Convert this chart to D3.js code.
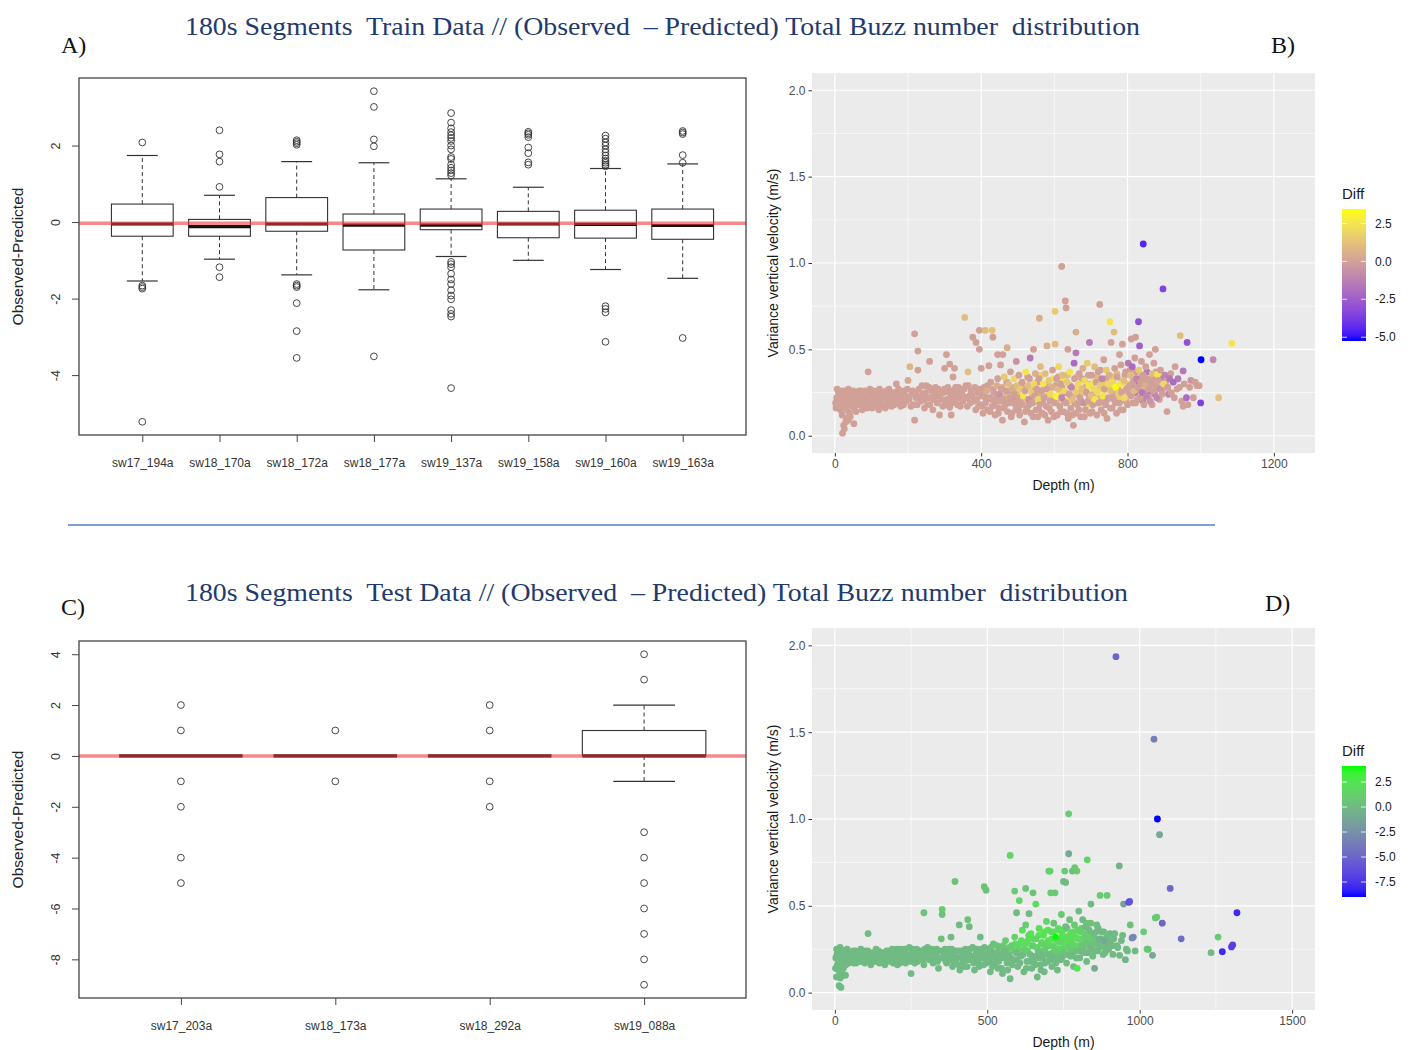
<!DOCTYPE html>
<html>
<head>
<meta charset="utf-8">
<script src="https://cdn.jsdelivr.net/npm/d3@7"></script>
<style>
  body { margin: 0; background: #fff; }
  text { font-family: "Liberation Sans", Arial, sans-serif; }
  .serif { font-family: "Liberation Serif", "Times New Roman", serif; white-space: pre; }
</style>
</head>
<body>
<svg id="fig" width="1413" height="1050"></svg>
<script>
// ---------- boxplot data (Observed - Predicted) ----------
const trainCats = ["sw17_194a", "sw18_170a", "sw18_172a", "sw18_177a", "sw19_137a", "sw19_158a", "sw19_160a", "sw19_163a"];
const trainQ1 = [-0.37, -0.37, -0.24, -0.73, -0.20, -0.41, -0.42, -0.45];
const trainMed = [-0.05, -0.12, -0.05, -0.08, -0.08, -0.05, -0.06, -0.09];
const trainQ3 = [0.47, 0.07, 0.64, 0.21, 0.34, 0.28, 0.31, 0.34];
const trainLo = [-1.54, -0.97, -1.38, -1.77, -0.90, -1.00, -1.24, -1.47];
const trainHi = [1.74, 0.70, 1.58, 1.55, 1.13, 0.91, 1.40, 1.52];
const trainOut = [
  [2.08, -1.66, -1.70, -1.74, -5.22],
  [2.40, 1.77, 1.58, 0.92, -1.18, -1.44],
  [2.14, 2.10, 2.06, 2.02, -1.62, -1.66, -1.70, -2.12, -2.85, -3.55],
  [3.42, 3.01, 2.16, 1.98, -3.51],
  [2.85, 2.60, 2.45, 2.35, 2.27, 2.20, 2.12, 2.00, 1.90, 1.70, 1.65, 1.50, 1.42, 1.35, 1.28, 1.22,
   -1.04, -1.10, -1.18, -1.35, -1.50, -1.62, -1.78, -1.92, -2.02, -2.30, -2.40, -2.47, -4.34],
  [2.36, 2.32, 2.28, 2.22, 1.95, 1.80, 1.56, 1.50],
  [2.26, 2.18, 2.08, 2.00, 1.90, 1.82, 1.74, 1.66, 1.60, 1.55, 1.50, 1.46, -2.20, -2.27, -2.36, -3.13],
  [2.38, 2.34, 2.30, 1.75, 1.55, -3.03]
];
const trainTicks = [-4, -2, 0, 2];

const testCats = ["sw17_203a", "sw18_173a", "sw18_292a", "sw19_088a"];
const testQ1 = [0, 0, 0, 0];
const testMed = [0, 0, 0, 0];
const testQ3 = [0, 0, 0, 1];
const testLo = [0, 0, 0, -1];
const testHi = [0, 0, 0, 2];
const testOut = [
  [2, 1, -1, -2, -4, -5],
  [1, -1],
  [2, 1, -1, -2],
  [4, 3, -3, -4, -5, -6, -7, -8, -9]
];
const testTicks = [-8, -6, -4, -2, 0, 2, 4];

// ---------- scatter data: [depth (m), variance vertical velocity, Diff] ----------
const trainPts = [
  [5,0.22,0],[8,0.18,0],[10,0.25,0],[12,0.20,0.1],[15,0.15,0],[18,0.23,0],[20,0.12,-0.1],[22,0.19,0],[25,0.26,0],
  [28,0.16,0],[30,0.21,0.1],[32,0.10,0],[35,0.24,0],[38,0.18,0],[40,0.13,0],[24,0.06,0],[21,0.015,0],[26,0.04,0],
  [30,0.08,0],[36,0.09,0],[42,0.11,0],[45,0.22,0],[48,0.17,0],[50,0.26,0],[55,0.20,0],[58,0.14,0],[52,0.07,0],
  [60,0.24,0],[3,0.16,0],[6,0.27,0],[14,0.23,0],
  [2,0.19,0],[9,0.21,0],[16,0.26,0],[19,0.17,0],[27,0.22,0],[33,0.15,0],[37,0.27,0],[43,0.19,0],[47,0.24,0],[53,0.16,0],
  [57,0.22,0],[62,0.19,0],[66,0.26,0],[70,0.20,0],[74,0.23,0],[79,0.17,0],[83,0.26,0],[87,0.21,0],[94,0.18,0],[98,0.24,0],
  [102,0.16,0],[106,0.26,0],[110,0.20,0],[114,0.18,0],[118,0.24,0],[122,0.27,0],[126,0.17,0],[130,0.22,0],[134,0.25,0],
  [138,0.16,0],[143,0.22,0],[148,0.27,0],[153,0.20,0],[158,0.25,0],[162,0.18,0],[167,0.22,0],[174,0.27,0],[178,0.20,0],
  [183,0.25,0],[188,0.18,0],[193,0.23,0],[198,0.27,0],[203,0.21,0],[208,0.17,0],[213,0.26,0],[220,0.25,0],[225,0.18,0],
  [233,0.23,0],[238,0.29,0],[243,0.21,0],[248,0.25,0],[253,0.18,0],[258,0.28,0],[263,0.22,0],[268,0.15,0],[272,0.25,0],
  [278,0.23,0],[283,0.27,0],[291,0.21,0],[297,0.25,0],[303,0.18,0],[309,0.28,0],[316,0.22,0],[322,0.26,0],[328,0.20,0],
  [333,0.25,0],[338,0.28,0],[343,0.17,0],[348,0.24,0],[353,0.27,0],[360,0.22,0],[365,0.29,0],[370,0.19,0],[375,0.23,0],
  [383,0.28,0],[388,0.21,0],[393,0.17,0],[397,0.27,0],
  [65,0.18,0],[68,0.23,0],[72,0.26,0],[75,0.15,0],[78,0.21,0],[82,0.19,0],[85,0.24,0],[88,0.16,0],[91,0.37,0],
  [92,0.22,0],[96,0.27,0],[100,0.19,0],[104,0.23,0],[108,0.17,0],[112,0.25,0],[116,0.21,0],[120,0.15,0],[124,0.20,0],
  [128,0.24,0],[132,0.18,0],[136,0.22,0],[140,0.26,0],[145,0.19,0],[150,0.23,0],[155,0.17,0],[160,0.21,0],[165,0.25,0],
  [168,0.30,0],[172,0.19,0],[176,0.23,0],[180,0.17,0],[185,0.22,0],[190,0.26,0],[195,0.20,0],[200,0.32,0.3],[205,0.40,0.8],
  [210,0.24,0],[215,0.18,0],[218,0.59,0],[218,0.09,0],[222,0.22,0],[227,0.49,0],[227,0.38,0],
  [230,0.27,0],[235,0.20,0],[240,0.24,0],[245,0.16,0],[250,0.29,0],[255,0.22,0],[259,0.43,0],[260,0.18,0],[265,0.26,0],
  [270,0.21,0],[275,0.28,0],[280,0.19,0],[286,0.12,0],[288,0.24,0],[295,0.17,0],[300,0.39,0],[300,0.27,0],[305,0.47,0],
  [306,0.21,0],[312,0.25,0],[314,0.165,0],[314,0.415,0],[318,0.12,0],[320,0.19,0],[323,0.34,0],[325,0.23,0],[327,0.39,0],
  [330,0.28,0],[335,0.18,0],[340,0.22,0],[345,0.26,0],[350,0.20,0],[355,0.685,1],[358,0.29,0],[362,0.17,0],[364,0.37,1],
  [368,0.23,0],[372,0.26,0],[377,0.57,0],[380,0.20,0],[385,0.15,0],[386,0.54,0],[390,0.25,0],[395,0.50,0],[395,0.61,0],[398,0.18,0],
  [403,0.17,0],[407,0.25,0],[413,0.22,0],[417,0.29,0],[424,0.14,0],[428,0.21,0],[433,0.27,0],[437,0.18,0],[442,0.23,0],
  [447,0.13,0],[452,0.20,0],[457,0.28,0.5],[462,0.16,0],[467,0.23,1],[470,0.31,0],[474,0.19,0],[479,0.26,0],[484,0.13,0],
  [487,0.22,-0.5],[491,0.28,0],[494,0.18,0],[499,0.25,1.5],[502,0.15,0],[506,0.22,0],[509,0.30,0.5],[513,0.19,0],[517,0.27,0],
  [521,0.14,0],[524,0.21,1],[527,0.34,0],[531,0.18,0],[535,0.28,2],[539,0.22,0],[542,0.11,0],[547,0.26,0],[551,0.20,1.5],
  [554,0.31,0],[557,0.15,0],[561,0.24,0.5],[564,0.35,2],[568,0.19,0],[571,0.27,0],[574,0.12,0],[577,0.23,1.5],[582,0.30,0],
  [586,0.16,0],[589,0.28,1],[593,0.21,0],[597,0.33,2.5],[599,0.11,0],[603,0.29,0],[607,0.19,1],[611,0.34,0],[614,0.24,2],
  [618,0.14,0],[621,0.28,0],[624,0.32,2.5],[627,0.20,0],[631,0.25,-0.5],[634,0.13,0],[636,0.35,1],[639,0.20,2],[643,0.29,0],
  [646,0.23,0.5],[649,0.12,0],[653,0.27,2],[656,0.19,0],[661,0.34,1],[664,0.24,0],[667,0.15,0],[669,0.29,2.5],[673,0.20,0],
  [676,0.33,0],[679,0.25,1.5],[682,0.11,0],[686,0.28,0],[689,0.18,2],[693,0.35,0],[695,0.23,0],[699,0.30,1.5],[703,0.14,0],
  [706,0.24,0],[709,0.31,2.5],[713,0.19,0],[717,0.34,1],[719,0.22,0],[723,0.27,2],[726,0.38,0],[729,0.20,0],[733,0.30,1.5],
  [736,0.13,0],[739,0.26,2.5],[741,0.33,0],[745,0.21,0],[749,0.28,2],[753,0.16,0],[757,0.34,1.5],[761,0.24,0],[764,0.29,2.5],
  [767,0.19,0],[771,0.36,1],[774,0.27,0],[777,0.22,2],[781,0.15,0],[785,0.31,0],[789,0.26,1.5],[793,0.35,0],[796,0.20,0],
  [799,0.30,2],[804,0.24,0],[807,0.38,0],[811,0.28,-1],[814,0.19,0],[817,0.33,0],[821,0.25,-1.5],[824,0.37,0],[827,0.21,0],
  [832,0.30,-2],[835,0.26,0],[839,0.34,0],[842,0.20,-1],[846,0.31,0],[849,0.25,0],[853,0.37,-1.5],[857,0.22,0],[861,0.30,0],
  [864,0.26,-2.5],[867,0.18,0],[871,0.33,0],[874,0.24,-1],[878,0.37,0],[883,0.28,0],[887,0.21,0],[891,0.33,-1.5],[896,0.27,0],
  [904,0.31,0],[912,0.24,-1],[918,0.36,0],[928,0.22,0],[938,0.33,-1.5],[942,0.28,0],
  [400,0.39,0],[402,0.23,0],[405,0.13,0],[408,0.28,0],[411,0.61,1],[412,0.19,0],[415,0.26,0.5],[418,0.15,0],[421,0.405,0],
  [422,0.22,0],[426,0.31,0],[430,0.61,1.2],[430,0.17,0],[432,0.57,0],[434,0.25,0],[438,0.12,0],[440,0.20,0],[443,0.29,0.5],
  [445,0.47,0],[445,0.33,0],[448,0.16,0],[450,0.24,-0.5],[453,0.41,0],[455,0.27,0],[458,0.09,0],[459,0.47,0],[460,0.21,0],
  [463,0.34,1.5],[466,0.18,0],[468,0.26,0],[471,0.51,0.5],[472,0.14,0],[475,0.30,1],[478,0.22,0],[480,0.37,0],[482,0.11,0],
  [485,0.27,0.5],[488,0.19,0],[490,0.33,2],[492,0.24,0],[495,0.15,0],[496,0.43,-0.5],[498,0.29,1],
  [500,0.21,0],[503,0.35,0],[505,0.12,0],[508,0.27,1.5],[510,0.18,0],[512,0.31,0],[515,0.23,2.5],[518,0.08,0],[520,0.26,0],
  [522,0.37,2.5],[525,0.16,0],[528,0.29,1],[530,0.21,-0.5],[532,0.33,0],[534,0.45,-1.5],[536,0.13,0],[538,0.25,1.5],
  [540,0.19,0],[543,0.50,0],[544,0.30,2],[546,0.23,0],[548,0.36,0.5],[550,0.15,0],[552,0.27,0],[555,0.11,0],[556,0.21,2],
  [558,0.33,0],[559,0.68,0.5],[560,0.18,0],[562,0.40,1],[565,0.26,0],[567,0.13,0],[570,0.30,2.5],[572,0.22,0],[575,0.36,1],
  [578,0.17,0],[580,0.52,0.5],[580,0.27,0],[583,0.09,0],[585,0.32,1.5],[588,0.20,0],[590,0.24,2],[592,0.14,0],[595,0.38,0],
  [598,0.28,0.5],[600,0.19,0],
  [602,0.72,1.5],[602,0.53,1],[604,0.23,3],[606,0.33,0],[608,0.12,0],[610,0.27,1],[612,0.40,2],[615,0.17,0],[617,0.30,0],
  [620,0.98,0],[620,0.22,-1],[622,0.35,1],[625,0.14,0],[628,0.26,2],[630,0.78,0],[632,0.74,0],[632,0.19,0],[635,0.31,1.5],
  [637,0.50,0],[638,0.10,0],[640,0.24,0],[642,0.37,2.5],[645,0.16,0],[647,0.28,-1],[650,0.21,1],[652,0.06,0],[654,0.42,-2],
  [655,0.33,0],[658,0.13,0],[659,0.60,0.5],[659,0.48,-1.5],[660,0.25,1.5],[663,0.18,0],[665,0.30,2],[668,0.36,0],[670,0.22,0],
  [672,0.11,0],[675,0.27,1],[678,0.39,0.5],[680,0.19,-0.5],[683,0.32,2],[685,0.15,0],[688,0.25,0],[690,0.42,1.5],[692,0.20,0],
  [694,0.29,2.5],[696,0.54,-1.5],[698,0.13,0],[700,0.23,1],
  [702,0.35,0],[705,0.18,0],[707,0.27,2],[710,0.40,1],[712,0.21,2.5],[714,0.31,0],[716,0.12,0],[718,0.25,2],[720,0.37,0],
  [722,0.19,0],[724,0.76,0],[725,0.29,1.5],[728,0.15,0],[730,0.33,-1],[732,0.23,2.5],[735,0.44,0],[737,0.27,0],[740,0.18,0],
  [742,0.38,1.5],[744,0.10,0],[746,0.30,2],[748,0.22,0],[750,0.35,0.5],[752,0.66,2.5],[755,0.54,0],[755,0.26,1],[758,0.16,0],
  [760,0.31,2],[763,0.60,1],[763,0.21,0],[765,0.39,0],[768,0.28,3.45],[770,0.13,0],[772,0.34,0],[775,0.24,1.5],[778,0.47,0],
  [778,0.19,0],[780,0.30,2.5],[782,0.41,0],[784,0.25,0],[786,0.53,0],[788,0.15,0],[790,0.32,1],[792,0.22,2],[795,0.37,0],
  [797,0.27,0],[800,0.18,0],
  [802,0.42,-1.5],[805,0.29,0],[808,0.35,1],[810,0.56,0],[810,0.23,0],[813,0.40,-2],[815,0.31,0],[818,0.26,1],[820,0.45,0],
  [822,0.57,0],[822,0.19,0],[825,0.33,-1],[828,0.28,0],[830,0.66,-3],[831,0.38,1.5],[833,0.52,-2.5],[834,0.22,0],[836,0.31,0],
  [838,0.43,0],[840,0.25,-1.5],[843,1.11,-4.5],[843,0.35,0],[845,0.18,0],[848,0.29,0.5],[850,0.40,0],[852,0.23,-1],[855,0.33,0],
  [858,0.27,0],[860,0.47,0],[862,0.20,-0.5],[865,0.31,0],[868,0.36,1],[870,0.26,0],[872,0.42,0],[876,0.50,0],[876,0.29,0],
  [880,0.22,-1],[882,0.355,2.5],[885,0.32,0],[888,0.27,-0.5],[890,0.38,0],[894,0.24,0],[897,0.85,-3.5],[899,0.30,2],
  [902,0.35,-1],[908,0.14,0],[910,0.28,0],[915,0.33,-1.5],[920,0.25,0],[925,0.31,-2],[930,0.40,0],[935,0.27,0],
  [944,0.58,1],[948,0.20,0],[952,0.375,-1.5],[952,0.17,0],[955,0.30,0],[961,0.22,-2],[963,0.54,-3],[965,0.18,0],[970,0.28,0],
  [973,0.32,-0.5],[980,0.22,0],[985,0.31,0],[990,0.29,0],[996,0.29,0],[1000,0.19,-3.5],[1001,0.44,-5.25],[1034,0.44,-1],
  [1049,0.22,1.2],[1085,0.535,2.5]
];

const testPts = [
  [3,0.20,0],[5,0.09,0],[6,0.25,0],[8,0.16,0],[10,0.22,0],[12,0.13,0],[14,0.04,0],[15,0.19,0],[17,0.26,0],[18,0.085,0],
  [20,0.03,0],[20,0.17,0],[22,0.23,0],[24,0.11,0],[25,0.20,0],[28,0.14,0],[30,0.24,0],[32,0.18,0],[35,0.10,0],[38,0.21,0],
  [40,0.25,0],[45,0.17,0],[48,0.22,0],
  [2,0.14,0],[7,0.22,0],[11,0.18,0],[13,0.24,0],[16,0.12,0],[19,0.21,0],[23,0.16,0],[26,0.24,0],[29,0.19,0],[33,0.22,0],
  [36,0.16,0],[42,0.20,0],[50,0.23,0],[52,0.18,0],[58,0.21,0],[62,0.17,0],[67,0.24,0],[72,0.20,0],[78,0.22,0],[83,0.18,0],
  [88,0.23,0],[93,0.20,0],[98,0.17,0],[103,0.22,0],[108,0.24,0],[115,0.19,0],[121,0.22,0],[127,0.18,0],[133,0.21,0],
  [138,0.18,0],[143,0.24,0],[149,0.20,0],[155,0.18,0],[161,0.23,0],[167,0.19,0],[173,0.22,0],[179,0.24,0],[185,0.20,0],
  [191,0.17,0],[197,0.22,0],[203,0.25,0],[208,0.19,0],[213,0.17,0],[218,0.22,0],[223,0.20,0],[229,0.25,0],[235,0.19,0],
  [241,0.22,0],[247,0.18,0],[254,0.25,0],[259,0.20,0],[265,0.22,0],[271,0.18,0],[277,0.24,0],[283,0.21,0],[289,0.19,0],
  [295,0.25,0],[301,0.20,0],[307,0.23,0],[313,0.19,0],[319,0.25,0],[325,0.19,0],[331,0.22,0],[337,0.18,0],[343,0.24,0],
  [355,0.20,0],[361,0.25,0],[367,0.17,0],[373,0.22,0],[379,0.19,0],[383,0.25,0],[389,0.18,0],[395,0.24,0],[401,0.20,0],
  [406,0.16,0],[413,0.24,0],[419,0.20,0],[425,0.15,0],[431,0.22,0],[437,0.19,0],[443,0.25,0],[449,0.21,0],[455,0.17,0],
  [461,0.20,0],[467,0.25,0],[473,0.15,0],[479,0.22,0],[485,0.20,0],[491,0.26,0],[497,0.17,0],
  [55,0.19,0],[60,0.24,0],[65,0.21,0],[70,0.17,0],[75,0.23,0],[80,0.20,0],[85,0.25,0],[90,0.18,0],[95,0.22,0],[100,0.24,0],
  [105,0.19,0],[109,0.34,0],[112,0.21,0],[118,0.16,0],[124,0.23,0],[130,0.19,0],[135,0.25,0],[140,0.21,0],[146,0.17,0],
  [152,0.23,0],[158,0.20,0],[164,0.16,0],[170,0.24,0],[176,0.21,0],[182,0.18,0],[188,0.25,0],[194,0.20,0],[200,0.23,0],
  [205,0.16,0],[210,0.21,0],[215,0.25,0],[220,0.19,0],[226,0.23,0],[232,0.17,0],[238,0.21,0],[244,0.26,0],[250,0.11,0],
  [251,0.20,0],[256,0.23,0],[262,0.17,0],[268,0.25,0],[274,0.21,0],[280,0.19,0],[286,0.24,0],[292,0.46,0.5],[292,0.16,0],[298,0.22,0],
  [304,0.26,0],[310,0.19,0],[316,0.23,0],[322,0.17,0],[328,0.21,0],[334,0.25,0],[340,0.14,0],[346,0.20,0],[349,0.31,0.5],
  [352,0.48,1],[352,0.45,0.5],[358,0.23,0],[364,0.18,0],[370,0.21,0],[376,0.25,0],[381,0.32,0],[386,0.15,0],[392,0.22,0],
  [394,0.64,0.5],[398,0.19,0],[404,0.24,0],[408,0.39,0],[410,0.13,0],[416,0.21,0],[422,0.18,0],[428,0.25,0],[434,0.15,0],
  [436,0.42,0.5],[440,0.22,0],[441,0.38,0],[446,0.19,0],[452,0.26,0],[458,0.13,0],[464,0.23,0],[470,0.18,0],[476,0.21,0],
  [477,0.32,0],[482,0.25,0],[488,0.16,0],[490,0.61,0.5],[494,0.22,0],[496,0.59,0.5],[500,0.19,0],
  [502,0.22,0],[507,0.18,0],[512,0.26,0.5],[517,0.15,0],[522,0.23,0],[527,0.20,0],[532,0.27,1],[537,0.18,0],[542,0.22,0],
  [547,0.14,0],[552,0.27,1],[557,0.20,0],[562,0.23,0.5],[567,0.13,0],[572,0.26,1],[577,0.20,0],[582,0.16,0],[587,0.24,1.5],
  [592,0.28,2],[597,0.19,0],[602,0.25,1.5],[607,0.17,0],[612,0.30,2.5],[617,0.22,0],[624,0.28,2],[628,0.14,0],[632,0.24,1.5],
  [636,0.33,2],[641,0.18,0],[645,0.27,2.5],[648,0.21,0],[652,0.31,2],[657,0.16,0],[662,0.26,2],[666,0.20,0],[669,0.33,2.5],
  [672,0.24,1],[676,0.13,0],[679,0.29,2],[682,0.22,0],[686,0.35,2.5],[689,0.17,0],[692,0.27,2],[696,0.22,0.5],[699,0.36,2.5],
  [703,0.27,1.5],[707,0.19,0],[711,0.31,2.5],[714,0.23,1],[717,0.35,2],[721,0.26,2],[725,0.17,0],[729,0.30,2.5],[732,0.22,0.5],
  [735,0.36,2],[738,0.25,2],[742,0.31,1.5],[745,0.20,0],[748,0.36,2.5],[752,0.26,1.5],[755,0.32,2],[759,0.22,0],[762,0.37,1.5],
  [765,0.29,2.5],[769,0.33,2],[772,0.25,1],[775,0.30,2.5],[778,0.22,0],[782,0.35,2],[785,0.27,1],[789,0.32,2],[792,0.20,0],
  [796,0.36,1.5],[799,0.27,2],[802,0.31,0.5],[805,0.24,0],[809,0.37,1],[812,0.30,2],[815,0.26,0],[818,0.34,1],[822,0.28,0.5],
  [825,0.40,1],[829,0.23,0],[832,0.33,1.5],[836,0.28,0],[839,0.40,0.5],[844,0.27,0],[848,0.32,1],[851,0.24,0],[857,0.35,0.5],
  [861,0.29,0],[864,0.37,0],[868,0.26,0],[873,0.31,0.5],[877,0.27,0],[882,0.35,0],[886,0.23,0],[891,0.30,0],[896,0.28,0],
  [902,0.34,0],[909,0.27,0],[915,0.31,0],[928,0.26,0],[944,0.33,0],[960,0.24,0],
  [505,0.25,0],[510,0.12,0],[515,0.21,0],[520,0.28,0.5],[525,0.17,0],[530,0.23,0],[535,0.14,0],[540,0.26,0.5],[545,0.20,0],
  [550,0.11,0],[555,0.24,0],[560,0.30,1],[565,0.17,0],[570,0.22,0],[575,0.79,1.5],[575,0.08,0],[580,0.27,1],[585,0.19,0],
  [590,0.585,1],[590,0.32,1.5],[595,0.23,0],[596,0.46,0],[600,0.15,0],[605,0.53,1.5],[605,0.28,2],[610,0.21,0],[615,0.36,2],
  [620,0.12,0],[622,0.25,1],[626,0.60,0.5],[626,0.39,1],[630,0.18,0],[633,0.30,2],[637,0.455,0],[640,0.22,0],[643,0.34,2.5],
  [646,0.14,0],[650,0.575,0.5],[650,0.27,1],[654,0.19,0],[659,0.51,2],[660,0.31,1.5],[664,0.09,0],[667,0.23,0],[670,0.37,2],
  [674,0.16,0],[677,0.28,1.5],[680,0.20,0],[684,0.33,2.5],[687,0.12,0],[690,0.25,1],[694,0.41,1.5],[697,0.18,0],[700,0.30,2],
  [702,0.70,1],[704,0.22,0],[706,0.70,1.5],[708,0.575,1],[710,0.35,2],[712,0.15,0],[715,0.27,1.5],[718,0.40,0.5],[720,0.20,0],
  [722,0.575,1],[724,0.32,4.1],[727,0.24,1],[730,0.13,0],[733,0.37,2],[736,0.29,1.5],[740,0.19,0],[743,0.45,1],[746,0.33,2.5],
  [750,0.64,0],[750,0.23,0.5],[753,0.28,2],[754,0.70,1],[757,0.635,0],[757,0.38,0],[760,0.17,0],[763,0.31,2],[767,1.03,1],
  [767,0.80,-1],[767,0.26,1],[770,0.42,0.5],[773,0.21,0],[776,0.34,2],[779,0.70,0.5],[780,0.28,1.5],[783,0.15,0],[786,0.39,1],
  [787,0.72,1],[790,0.24,0.5],[794,0.70,1],[795,0.14,2.5],[797,0.31,2],[800,0.47,0],[803,0.20,0],[806,0.35,1.5],[810,0.27,0.5],
  [813,0.42,0],[816,0.23,0],[820,0.32,1],[823,0.38,0],[826,0.18,0],[828,0.765,1.5],[830,0.29,0.5],[834,0.36,0],[837,0.25,0],
  [840,0.51,0],[842,0.31,1],[846,0.21,0],[850,0.34,0],[852,0.14,-1],[855,0.28,0.5],[859,0.39,0],[862,0.24,0],[866,0.31,-0.5],
  [870,0.56,1],[871,0.27,0],[875,0.35,0],[880,0.22,0],[884,0.30,-1],[888,0.26,0],[893,0.56,1],[893,0.33,0],[898,0.25,0],
  [905,0.30,0],[912,0.22,0],[918,0.34,0],[922,1.935,-5],[925,0.27,0],[933,0.73,-0.5],[934,0.215,0],[940,0.30,0],[947,0.51,-1.5],
  [953,0.19,-0.5],[956,0.25,0],[964,0.52,-7],[967,0.525,-6],[969,0.39,0.5],[975,0.315,-3],[979,0.32,-3],[985,0.24,0],
  [1013,0.35,1],[1024,0.25,1],[1028,0.25,0.5],[1042,0.215,-1],[1047,1.46,-3.5],[1051,0.43,1],[1056,0.435,1],[1058,1.00,-9],
  [1065,0.91,-1],[1074,0.40,-5],[1100,0.60,-5],[1136,0.31,-4.5],[1234,0.23,0],[1257,0.32,1],[1271,0.236,-8],[1301,0.263,-7],
  [1305,0.275,-7],[1319,0.46,-8]
];

const trainDepthTicks = [0, 400, 800, 1200];
const trainDepthMinor = [200, 600, 1000];
const testDepthTicks = [0, 500, 1000, 1500];
const testDepthMinor = [250, 750, 1250];
const varTicks = [0, 0.5, 1, 1.5, 2];
const varMinor = [0.25, 0.75, 1.25, 1.75];
const trainDiffBreaks = [-5, -2.5, 0, 2.5];
const testDiffBreaks = [-7.5, -5, -2.5, 0, 2.5];

const svg = d3.select("#fig");

// R-style boxplot panel
function boxPanel(o) {
  const n = o.cats.length;
  const x = d3.scaleLinear()
    .domain([0.5 - 0.04 * n, n + 0.5 + 0.04 * n])
    .range([o.left, o.right]);
  const all = o.lo.concat(o.hi, d3.merge(o.out));
  const ext = d3.extent(all);
  const pad = (ext[1] - ext[0]) * 0.04;
  const y = d3.scaleLinear().domain([ext[0] - pad, ext[1] + pad]).range([o.bottom, o.top]);
  const bw = x(1.4) - x(1);   // half of boxwex 0.8
  const sw = bw / 2;          // staple half width

  const g = svg.append("g");

  o.cats.forEach((c, i) => {
    const cx = x(i + 1);
    const b = g.append("g").attr("stroke", "#333").attr("fill", "none");
    // whiskers (dashed)
    b.append("line").attr("x1", cx).attr("x2", cx).attr("y1", y(o.q3[i])).attr("y2", y(o.hi[i]))
      .attr("stroke-dasharray", "4,3").attr("stroke-width", 1);
    b.append("line").attr("x1", cx).attr("x2", cx).attr("y1", y(o.q1[i])).attr("y2", y(o.lo[i]))
      .attr("stroke-dasharray", "4,3").attr("stroke-width", 1);
    // staples
    [o.hi[i], o.lo[i]].forEach(v => {
      b.append("line").attr("x1", cx - sw).attr("x2", cx + sw).attr("y1", y(v)).attr("y2", y(v)).attr("stroke-width", 1.2);
    });
    // box
    b.append("rect").attr("x", cx - bw).attr("width", 2 * bw)
      .attr("y", y(o.q3[i])).attr("height", Math.max(0, y(o.q1[i]) - y(o.q3[i])))
      .attr("stroke-width", 1.1);
    // median
    b.append("line").attr("x1", cx - bw).attr("x2", cx + bw).attr("y1", y(o.med[i])).attr("y2", y(o.med[i]))
      .attr("stroke", "#111").attr("stroke-width", 3.2);
    // outliers
    b.selectAll("circle").data(o.out[i]).join("circle")
      .attr("cx", cx).attr("cy", d => y(d)).attr("r", 3.4).attr("stroke-width", 0.9);
  });

  // reference line
  g.append("line").attr("x1", o.left).attr("x2", o.right).attr("y1", y(o.ref)).attr("y2", y(o.ref))
    .attr("stroke", "rgb(235,60,60)").attr("stroke-opacity", 0.6).attr("stroke-width", 3.5);

  // frame
  g.append("rect").attr("x", o.left).attr("y", o.top).attr("width", o.right - o.left).attr("height", o.bottom - o.top)
    .attr("fill", "none").attr("stroke", "#444").attr("stroke-width", 1.3);

  // axes
  const ya = g.append("g").attr("transform", `translate(${o.left},0)`)
    .call(d3.axisLeft(y).tickValues(o.ticks).tickSize(7).tickFormat(d => String(d)));
  ya.select(".domain").remove();
  ya.selectAll("line").attr("stroke", "#444");
  ya.selectAll("text").attr("x", null).attr("dy", null)
    .attr("transform", "translate(-19,0) rotate(-90)").attr("text-anchor", "middle")
    .attr("fill", "#333").style("font-size", "12.5px");

  const xa = g.append("g").attr("transform", `translate(0,${o.bottom})`)
    .call(d3.axisBottom(x).tickValues(d3.range(1, n + 1)).tickSize(7).tickFormat(i => o.cats[i - 1]));
  xa.select(".domain").remove();
  xa.selectAll("line").attr("stroke", "#444");
  xa.selectAll("text").attr("y", 23).attr("fill", "#333").style("font-size", "12px");

  g.append("text").attr("transform", `translate(${o.left - 56},${(o.top + o.bottom) / 2}) rotate(-90)`)
    .attr("text-anchor", "middle").attr("fill", "#222").style("font-size", "15.5px").text("Observed-Predicted");
}

// ggplot-style scatter panel with colourbar
function scatterPanel(o) {
  const x = d3.scaleLinear().domain(o.xDom).range([o.left, o.right]);
  const y = d3.scaleLinear().domain([-0.1, 2.1]).range([o.bottom, o.top]);
  const cExt = d3.extent(o.pts, d => d[2]);
  const col = d3.scaleLinear().domain(cExt).range([o.low, o.high]).interpolate(d3.interpolateLab);

  const g = svg.append("g");
  g.append("rect").attr("x", o.left).attr("y", o.top).attr("width", o.right - o.left).attr("height", o.bottom - o.top)
    .attr("fill", "#EBEBEB");

  const grid = g.append("g").attr("stroke", "#fff");
  o.xMinor.forEach(v => grid.append("line").attr("x1", x(v)).attr("x2", x(v)).attr("y1", o.top).attr("y2", o.bottom).attr("stroke-width", 0.6));
  varMinor.forEach(v => grid.append("line").attr("y1", y(v)).attr("y2", y(v)).attr("x1", o.left).attr("x2", o.right).attr("stroke-width", 0.6));
  o.xTicks.forEach(v => grid.append("line").attr("x1", x(v)).attr("x2", x(v)).attr("y1", o.top).attr("y2", o.bottom).attr("stroke-width", 1.2));
  varTicks.forEach(v => grid.append("line").attr("y1", y(v)).attr("y2", y(v)).attr("x1", o.left).attr("x2", o.right).attr("stroke-width", 1.2));

  g.append("g").selectAll("circle").data(o.pts).join("circle")
    .attr("cx", d => x(d[0])).attr("cy", d => y(d[1])).attr("r", 3.4)
    .attr("fill", d => col(d[2]));

  const xa = g.append("g").attr("transform", `translate(0,${o.bottom})`)
    .call(d3.axisBottom(x).tickValues(o.xTicks).tickSize(3.5).tickPadding(3).tickFormat(d => String(d)));
  xa.select(".domain").remove();
  xa.selectAll("line").attr("stroke", "#333");
  xa.selectAll("text").attr("fill", "#4D4D4D").style("font-size", "12px");

  const ya = g.append("g").attr("transform", `translate(${o.left},0)`)
    .call(d3.axisLeft(y).tickValues(varTicks).tickSize(3.5).tickPadding(3).tickFormat(d => d.toFixed(1)));
  ya.select(".domain").remove();
  ya.selectAll("line").attr("stroke", "#333");
  ya.selectAll("text").attr("fill", "#4D4D4D").style("font-size", "12px");

  g.append("text").attr("x", (o.left + o.right) / 2).attr("y", o.bottom + 37).attr("text-anchor", "middle")
    .attr("fill", "#1a1a1a").style("font-size", "14px").text("Depth (m)");
  g.append("text").attr("transform", `translate(${o.left - 34},${(o.top + o.bottom) / 2}) rotate(-90)`)
    .attr("text-anchor", "middle").attr("fill", "#1a1a1a").style("font-size", "14px")
    .text("Variance vertical velocity (m/s)");

  // colourbar legend
  const lg = o.legend;
  const ly = d3.scaleLinear().domain(cExt).range([lg.bottom, lg.top]);
  const gid = "grad" + o.id;
  const grad = svg.append("defs").append("linearGradient").attr("id", gid)
    .attr("x1", 0).attr("y1", 1).attr("x2", 0).attr("y2", 0);
  d3.range(0, 1.0001, 0.05).forEach(t => {
    grad.append("stop").attr("offset", t).attr("stop-color", col(cExt[0] + t * (cExt[1] - cExt[0])));
  });
  g.append("text").attr("x", lg.left).attr("y", lg.top - 10).attr("fill", "#1a1a1a").style("font-size", "15px").text("Diff");
  g.append("rect").attr("x", lg.left).attr("y", lg.top).attr("width", 24).attr("height", lg.bottom - lg.top)
    .attr("fill", `url(#${gid})`);
  o.breaks.forEach(b => {
    g.append("line").attr("x1", lg.left).attr("x2", lg.left + 5).attr("y1", ly(b)).attr("y2", ly(b)).attr("stroke", "#fff").attr("stroke-width", 0.8);
    g.append("line").attr("x1", lg.left + 19).attr("x2", lg.left + 24).attr("y1", ly(b)).attr("y2", ly(b)).attr("stroke", "#fff").attr("stroke-width", 0.8);
    g.append("text").attr("x", lg.left + 33).attr("y", ly(b)).attr("dy", "0.35em").attr("fill", "#1a1a1a")
      .style("font-size", "12px").text(b.toFixed(1));
  });
}

boxPanel({
  cats: trainCats, q1: trainQ1, med: trainMed, q3: trainQ3, lo: trainLo, hi: trainHi, out: trainOut,
  ticks: trainTicks, ref: -0.03, left: 79, right: 746, top: 78, bottom: 435
});
boxPanel({
  cats: testCats, q1: testQ1, med: testMed, q3: testQ3, lo: testLo, hi: testHi, out: testOut,
  ticks: testTicks, ref: 0, left: 79, right: 746, top: 641, bottom: 998
});

scatterPanel({
  id: "B", pts: trainPts, xDom: [-62.5, 1312.5], xTicks: trainDepthTicks, xMinor: trainDepthMinor,
  low: "#0000FF", high: "#FFFF00", breaks: trainDiffBreaks,
  left: 812, right: 1315, top: 73, bottom: 453,
  legend: { left: 1342, top: 209, bottom: 341 }
});
scatterPanel({
  id: "D", pts: testPts, xDom: [-75, 1575], xTicks: testDepthTicks, xMinor: testDepthMinor,
  low: "#0000FF", high: "#00FF00", breaks: testDiffBreaks,
  left: 812, right: 1315, top: 628, bottom: 1010,
  legend: { left: 1342, top: 766, bottom: 897 }
});

// titles and panel letters
const titleColor = "#1F3A6E";
svg.append("text").attr("class", "serif").attr("x", 185).attr("y", 35)
  .attr("textLength", 955).attr("lengthAdjust", "spacingAndGlyphs")
  .attr("fill", titleColor).style("font-size", "25px")
  .text("180s Segments  Train Data // (Observed  \u2013 Predicted) Total Buzz number  distribution");
svg.append("text").attr("class", "serif").attr("x", 185).attr("y", 601)
  .attr("textLength", 943).attr("lengthAdjust", "spacingAndGlyphs")
  .attr("fill", titleColor).style("font-size", "25px")
  .text("180s Segments  Test Data // (Observed  \u2013 Predicted) Total Buzz number  distribution");

[["A)", 61, 53], ["B)", 1271, 53], ["C)", 61, 615], ["D)", 1265, 611]].forEach(([t, px, py]) => {
  svg.append("text").attr("class", "serif").attr("x", px).attr("y", py).attr("fill", "#111")
    .style("font-size", "24px").text(t);
});

svg.append("line").attr("x1", 68).attr("x2", 1215).attr("y1", 525).attr("y2", 525)
  .attr("stroke", "#4F81BD").attr("stroke-width", 1.4);
</script>
</body>
</html>
